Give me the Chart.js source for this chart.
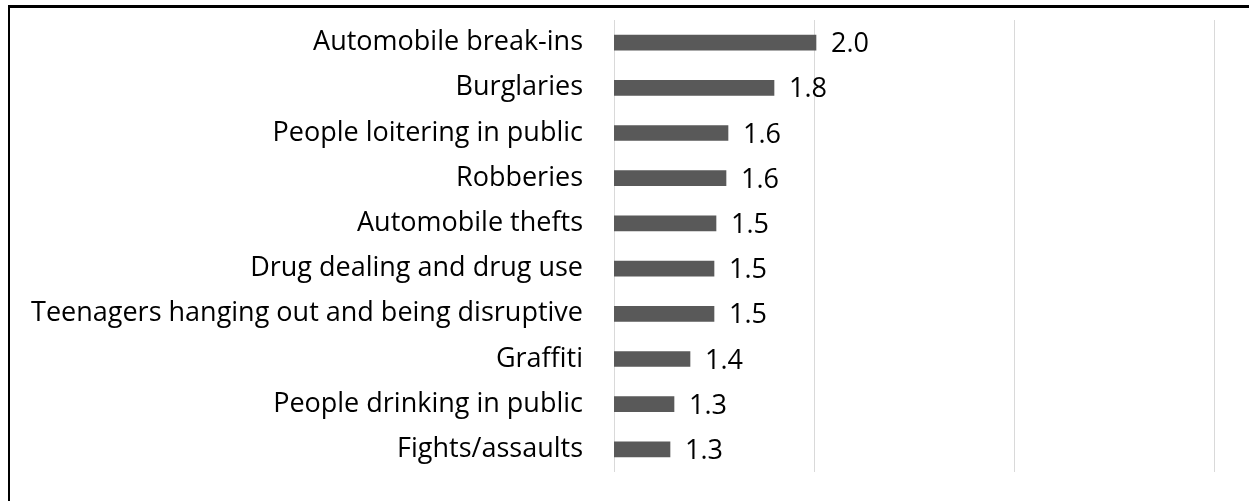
<!DOCTYPE html>
<html>
<head>
<meta charset="utf-8">
<script src="https://cdn.jsdelivr.net/npm/chart.js@4"></script>
<style>
  html, body { margin: 0; padding: 0; background: #fff; }
  #wrap { width: 1249px; height: 501px; }
</style>
</head>
<body>
<div id="wrap"><canvas id="crimeChart" width="1249" height="501"></canvas></div>
<script>
const categories = [
  'Automobile break-ins',
  'Burglaries',
  'People loitering in public',
  'Robberies',
  'Automobile thefts',
  'Drug dealing and drug use',
  'Teenagers hanging out and being disruptive',
  'Graffiti',
  'People drinking in public',
  'Fights/assaults'
];
const ratings = [2.01, 1.8, 1.57, 1.56, 1.51, 1.5, 1.5, 1.38, 1.3, 1.28];
const axisMin = 1;
const axisMax = 4;

const FONT = "'Open Sans', sans-serif";

// value labels at the end of each bar
const valueLabels = {
  id: 'valueLabels',
  afterDatasetsDraw(chart) {
    const ctx = chart.ctx;
    const meta = chart.getDatasetMeta(0);
    ctx.save();
    ctx.font = '27px ' + FONT;
    ctx.fillStyle = '#000';
    ctx.textAlign = 'left';
    ctx.textBaseline = 'middle';
    meta.data.forEach((bar, i) => {
      ctx.fillText(ratings[i].toFixed(1), bar.x + 15, bar.y + 2);
    });
    ctx.restore();
  }
};

// the frame around the figure
const frame = {
  id: 'frame',
  beforeDraw(chart) {
    const ctx = chart.ctx;
    ctx.save();
    ctx.fillStyle = '#000';
    ctx.fillRect(8, 5, chart.width - 8, 3);
    ctx.fillRect(8, 5, 2, chart.height - 5);
    ctx.restore();
  }
};

const chart = new Chart(document.getElementById('crimeChart').getContext('2d'), {
  type: 'bar',
  data: {
    labels: categories,
    datasets: [{
      data: ratings,
      backgroundColor: '#595959',
      borderWidth: 0,
      barThickness: 15
    }]
  },
  options: {
    indexAxis: 'y',
    responsive: false,
    animation: false,
    layout: { padding: { top: 20, right: 35, bottom: 29, left: 0 } },
    plugins: {
      legend: { display: false },
      tooltip: { enabled: false }
    },
    scales: {
      x: {
        min: axisMin,
        max: axisMax,
        afterFit: s => { s.height = 0; },
        ticks: { display: false, stepSize: 1 },
        grid: { color: '#d9d9d9', lineWidth: 1, drawTicks: false },
        border: { display: false }
      },
      y: {
        afterFit: s => {
          s.width = 614;
          s.paddingTop = 0;
          s.paddingBottom = 0;
        },
        ticks: {
          padding: 31,
          color: '#000',
          font: { family: FONT, size: 27 }
        },
        grid: { display: false, drawTicks: false },
        border: { display: false }
      }
    }
  },
  plugins: [valueLabels, frame]
});
</script>
</body>
</html>
